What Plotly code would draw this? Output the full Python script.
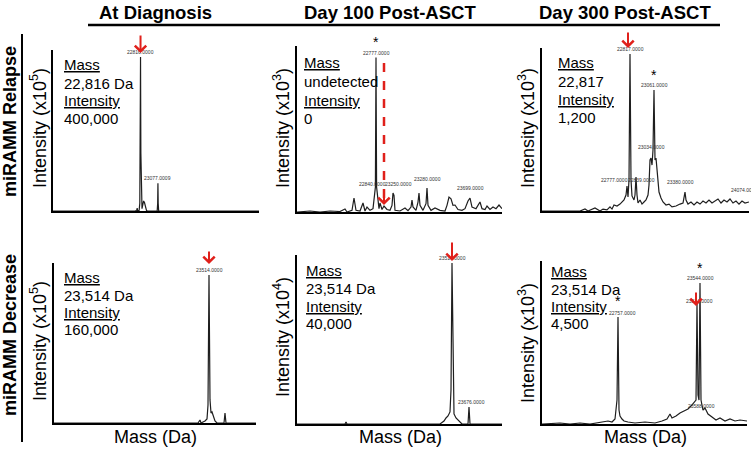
import plotly.graph_objects as go

# ---------------- DATA ----------------
col_titles = ["At Diagnosis", "Day 100 Post-ASCT", "Day 300 Post-ASCT"]
row_titles = ["miRAMM Relapse", "miRAMM Decrease"]
y_titles = ["Intensity (x10<sup>5</sup>)", "Intensity (x10<sup>3</sup>)", "Intensity (x10<sup>3</sup>)",
            "Intensity (x10<sup>5</sup>)", "Intensity (x10<sup>4</sup>)", "Intensity (x10<sup>3</sup>)"]
x_title = "Mass (Da)"
info_mass = ["22,816 Da", "undetected", "22,817", "23,514 Da", "23,514 Da", "23,514 Da"]
info_int = ["400,000", "0", "1,200", "160,000", "40,000", "4,500"]

# Panel A: miRAMM Relapse, At Diagnosis
a_mass = [21503, 22600, 22740, 22760, 22766, 22772, 22795, 22805, 22811, 22816, 22821, 22827, 22838,
          22852, 22862, 22875, 22890, 22905, 22920, 23066, 23073, 23077, 23081, 23088, 24593]
a_int = [0, 0, 0, 2500, 7800, 0, 1500, 20000, 150000, 400000, 150000, 20000, 6000,
         18000, 26000, 22000, 9000, 1500, 0, 0, 20000, 72000, 20000, 0, 0]
a_labels = [(22816, 400000, "22816.0000"), (23077, 72000, "23077.0009")]

# Panel B: miRAMM Relapse, Day 100
b_mass = [21592, 21787, 21937, 22087, 22237, 22312, 22342, 22417, 22447, 22477, 22537, 22582, 22612,
          22642, 22687, 22732, 22768, 22777, 22786, 22822, 22837, 22867, 22897, 22942, 22987, 23017,
          23032, 23047, 23062, 23137, 23212, 23257, 23302, 23317, 23332, 23377, 23407, 23422, 23437,
          23482, 23527, 23542, 23557, 23602, 23662, 23737, 23812, 23842, 23872, 23902, 23932, 23962,
          24007, 24067, 24112, 24157, 24187, 24217, 24277, 24307, 24337, 24367, 24412, 24442, 24487,
          24532, 24577, 24622, 24667]
b_int = [0, 60, 0, 60, 30, 180, 0, 100, 843, 100, 60, 542, 60,
         300, 100, 200, 1500, 9300, 1500, 200, 542, 150, 360, 150, 100, 400,
         1145, 1000, 100, 60, 240, 80, 300, 723, 300, 100, 600, 1145, 400,
         100, 500, 1446, 400, 100, 240, 100, 60, 400, 904, 800, 400, 420,
         150, 100, 200, 663, 843, 300, 200, 400, 602, 200, 150, 360, 150,
         300, 200, 420, 200]
b_labels = [(22717, 1385, "22840.0000"), (23107, 1385, "23250.0000"),
            (23542, 1687, "23280.0000"), (24187, 1145, "23699.0000")]
b_top_label = (22777, 9300, "22777.0000")

# Panel C: miRAMM Relapse, Day 300
c_mass = [21497, 21767, 22067, 22142, 22187, 22292, 22367, 22412, 22472, 22517, 22547, 22577, 22622,
          22667, 22697, 22727, 22757, 22772, 22787, 22802, 22817, 22832, 22847, 22877, 22892, 22907,
          22922, 22937, 22967, 22997, 23027, 23057, 23087, 23102, 23117, 23132, 23147, 23162, 23177,
          23192, 23207, 23222, 23237, 23252, 23282, 23312, 23357, 23402, 23447, 23507, 23567, 23612,
          23642, 23657, 23687, 23732, 23777, 23822, 23867, 23912, 23957, 24002, 24047, 24092, 24137,
          24182, 24227, 24272, 24317, 24362, 24407, 24452, 24497, 24542, 24602]
c_int = [0, 0, 0, 15, 0, 23, 0, 15, 8, 31, 15, 46, 38,
         53, 69, 84, 122, 191, 107, 237, 1200, 237, 115, 84, 122, 260,
         122, 61, 84, 53, 69, 84, 122, 199, 390, 405, 351, 466, 924,
         390, 405, 298, 199, 145, 99, 69, 46, 53, 31, 38, 53, 61,
         145, 84, 53, 69, 46, 69, 53, 76, 61, 84, 61, 76, 92,
         61, 84, 69, 92, 61, 76, 53, 76, 61, 69]
c_labels = [(22817, 1200, "22817.0000"), (23177, 924, "23061.0000"), (23132, 450, "23034.0000"),
            (22577, 195, "22777.0000"), (22982, 195, "22839.0000"), (23567, 185, "23380.0000"),
            (24530, 120, "24074.0000")]

# Panel D: miRAMM Decrease, At Diagnosis
d_mass = [21189, 23229, 23349, 23379, 23394, 23454, 23484, 23499, 23514, 23529, 23544, 23559, 23574,
          23604, 23634, 23739, 23754, 23769, 24219]
d_int = [0, 0, 0, 3240, 0, 2160, 4300, 19500, 160000, 25000, 10800, 11900, 7600,
         2160, 0, 0, 10800, 0, 0]
d_labels = [(23514, 160000, "23514.0000")]

# Panel E: miRAMM Decrease, Day 100
e_mass = [21189, 21909, 21924, 21939, 23334, 23394, 23424, 23454, 23484, 23499, 23514, 23529, 23544,
          23574, 23604, 23634, 23664, 23754, 23769, 23784, 24264]
e_int = [0, 0, 500, 0, 0, 750, 1500, 2000, 3000, 8450, 40000, 10900, 2500,
         1500, 1000, 750, 0, 0, 4225, 0, 0]
e_labels = [(23514, 40000, "23514.0000"), (23800, 4225, "23676.0000")]

# Panel F: miRAMM Decrease, Day 300
f_mass = [21189, 21459, 21609, 21759, 21909, 22059, 22179, 22239, 22284, 22314, 22329, 22344, 22359,
          22389, 22419, 22479, 22584, 22734, 22884, 22989, 23064, 23109, 23139, 23199, 23259, 23319,
          23379, 23424, 23469, 23499, 23514, 23529, 23544, 23559, 23574, 23604, 23634, 23679, 23739,
          23799, 23859, 23934, 24009, 24084, 24159, 24234, 24264]
f_int = [0, 37, 0, 37, 0, 74, 112, 74, 186, 892, 3978, 520, 297,
         186, 112, 74, 37, 74, 37, 112, 186, 372, 223, 297, 409, 483,
         558, 669, 781, 892, 4500, 1078, 892, 5242, 892, 520, 595, 372, 260,
         149, 223, 112, 186, 112, 149, 112, 112]
f_labels = [(22389, 3950, "22757.0000"), (23544, 4400, "23514.0000"), (23559, 5242, "23544.0000"),
            (23574, 480, "23588.0000")]

# ---------------- LAYOUT HELPERS ----------------
W, H = 751, 452
FONT = "Arial, Liberation Sans, sans-serif"
RED = "#e0201b"


def px(x):
    return x / W


def py(y):
    return 1 - y / H


# panel boxes in pixels: (x0, x1, ytop, ybase), axis ranges
panels = [
    dict(m=a_mass, i=a_int, lab=a_labels, box=(53, 259, 50, 211), xr=(21503, 24593), yr=(0, 418000)),
    dict(m=b_mass, i=b_int, lab=b_labels + [b_top_label], box=(297, 502, 46, 212), xr=(21592, 24667), yr=(0, 10000)),
    dict(m=c_mass, i=c_int, lab=c_labels, box=(542, 749, 48, 211), xr=(21497, 24602), yr=(0, 1245)),
    dict(m=d_mass, i=d_int, lab=d_labels, box=(54, 256, 263, 423), xr=(21189, 24219), yr=(0, 173000)),
    dict(m=e_mass, i=e_int, lab=e_labels, box=(297, 502, 255, 424), xr=(21189, 24264), yr=(0, 42000)),
    dict(m=f_mass, i=f_int, lab=f_labels, box=(542, 747, 261, 424), xr=(21189, 24264), yr=(0, 6060)),
]

fig = go.Figure()
annotations = []
shapes = []

for k, p in enumerate(panels):
    n = "" if k == 0 else str(k + 1)
    x0, x1, yt, yb = p["box"]
    fig.add_trace(go.Scatter(x=p["m"], y=p["i"], mode="lines",
                             line=dict(color="#1e1e1e", width=1.2),
                             xaxis="x" + n, yaxis="y" + n, showlegend=False, hoverinfo="skip"))
    ax_common = dict(showline=True, linecolor="black", linewidth=2, showgrid=False, zeroline=False,
                     ticks="", showticklabels=False, fixedrange=True)
    fig.layout["xaxis" + n] = dict(ax_common, domain=[px(x0), px(x1)], range=list(p["xr"]),
                                   anchor="y" + n)
    fig.layout["yaxis" + n] = dict(ax_common, domain=[py(yb), py(yt)], range=list(p["yr"]),
                                   anchor="x" + n)
    for (mx, iy, txt) in p["lab"]:
        annotations.append(dict(x=mx, y=iy, xref="x" + n, yref="y" + n, text=txt, showarrow=False,
                                yanchor="bottom", yshift=0, font=dict(family=FONT, size=5, color="#333")))

# info text blocks (left x, line centres)
info_pos = [(62, [64, 83, 101, 118]), (302, [63, 82, 101, 118]), (556, [63, 81, 99, 117]),
            (62, [277, 295, 312, 329]), (304, [270, 288, 306, 323]), (549, [271, 289, 306, 323])]
for k, (lx, ys) in enumerate(info_pos):
    texts = ["<u>Mass</u>", info_mass[k], "<u>Intensity</u>", info_int[k]]
    for t, yy in zip(texts, ys):
        annotations.append(dict(x=px(lx), y=py(yy), xref="paper", yref="paper", text=t, showarrow=False,
                                xanchor="left", yanchor="middle", font=dict(family=FONT, size=15, color="black")))

# y-axis titles
ytitle_pos = [(38, 128), (281, 128), (526, 128), (38, 341), (281, 337), (526, 343)]
for k, (xx, yy) in enumerate(ytitle_pos):
    annotations.append(dict(x=px(xx), y=py(yy), xref="paper", yref="paper", text=y_titles[k], showarrow=False,
                            textangle=-90, xanchor="center", yanchor="middle",
                            font=dict(family=FONT, size=18, color="black")))

# x-axis titles (bottom row)
for xx in (155, 400, 645):
    annotations.append(dict(x=px(xx), y=py(437), xref="paper", yref="paper", text=x_title, showarrow=False,
                            xanchor="center", yanchor="middle", font=dict(family=FONT, size=18, color="black")))

# column titles
for xx, t in zip((155, 390, 625), col_titles):
    annotations.append(dict(x=px(xx), y=py(12), xref="paper", yref="paper", text="<b>" + t + "</b>",
                            showarrow=False, xanchor="center", yanchor="middle",
                            font=dict(family=FONT, size=18.5, color="black")))

# row titles
for yy, t in zip((122, 335), row_titles):
    annotations.append(dict(x=px(10), y=py(yy), xref="paper", yref="paper", text="<b>" + t + "</b>",
                            showarrow=False, textangle=-90, xanchor="center", yanchor="middle",
                            font=dict(family=FONT, size=18, color="black")))

# separator lines
shapes.append(dict(type="line", xref="paper", yref="paper", x0=px(88), x1=px(720), y0=py(25), y1=py(25),
                   line=dict(color="black", width=2.5)))
shapes.append(dict(type="line", xref="paper", yref="paper", x0=px(22), x1=px(22), y0=py(34), y1=py(442),
                   line=dict(color="black", width=2)))

# red arrows (head in data coordinates, tail offset in px)
arrows = [("", 22816, 410000, -19), ("3", 22787, 1245, -17), ("4", 23514, 171900, -14),
          ("5", 23514, 40500, -20), ("6", 23499, 4387, -15)]
for n, mx, iy, ay in arrows:
    annotations.append(dict(x=mx, y=iy, xref="x" + n, yref="y" + n, text="", showarrow=True,
                            arrowhead=4, arrowsize=1.1, arrowwidth=2, arrowcolor=RED,
                            ax=0, ay=ay))
# dashed red arrow, Day 100 relapse panel
shapes.append(dict(type="line", xref="x2", yref="y2", x0=22897, x1=22897, y0=8976, y1=800,
                   line=dict(color=RED, width=2.5, dash="dash")))
annotations.append(dict(x=22897, y=420, xref="x2", yref="y2", text="", showarrow=True,
                        arrowhead=4, arrowsize=1.1, arrowwidth=2, arrowcolor=RED, ax=0, ay=-10))

# stars
stars = [("2", 22777, 9300, 6), ("3", 23177, 924, 5), ("6", 22329, 3978, 6), ("6", 23559, 5242, 5)]
for n, mx, iy, sh in stars:
    annotations.append(dict(x=mx, y=iy, xref="x" + n, yref="y" + n, text="*", showarrow=False,
                            yanchor="bottom", yshift=sh, font=dict(family=FONT, size=14, color="black")))

fig.update_layout(width=W, height=H, margin=dict(l=0, r=0, t=0, b=0), paper_bgcolor="white",
                  plot_bgcolor="white", annotations=annotations, shapes=shapes, showlegend=False)

fig.write_html("out.html", config={"displayModeBar": False},
               post_script="document.body.style.margin='0px';document.body.style.overflow='hidden';")
